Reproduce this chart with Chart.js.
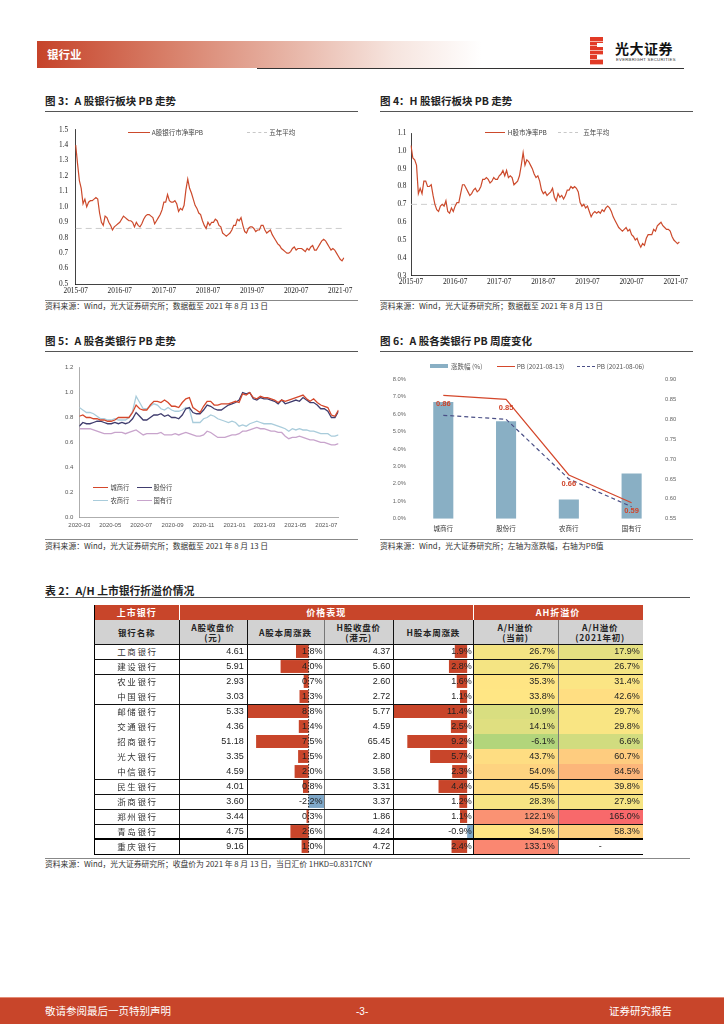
<!DOCTYPE html>
<html><head><meta charset="utf-8">
<script src="https://cdn.jsdelivr.net/npm/chart.js@4.4.1/dist/chart.umd.min.js"></script>
<style>
body{margin:0;width:724px;height:1024px;position:relative;background:#fff;overflow:hidden;font-family:"Noto Sans CJK SC","Noto Sans",sans-serif;}
div,canvas{position:absolute;}
.t{white-space:nowrap;}
</style></head><body>
<script>
// ---------------- DATA ----------------
// Fig 3 / Fig 4 : semi-monthly sampling 2015-07 .. 2021-08
const firstMonth34 = '2015-07', lastMonth34 = '2021-08';
const yearTicks34 = ['2015-07','2016-07','2017-07','2018-07','2019-07','2020-07','2021-07'];
const pbA = [1.40,1.28,1.17,1.12,1.02,1.05,1.00,1.03,1.04,1.04,
 1.05,1.06,1.05,0.96,0.90,0.88,0.94,0.93,0.90,0.88,
 0.85,0.87,0.88,0.89,0.90,0.92,0.94,0.93,0.92,0.91,
 0.91,0.90,0.87,0.90,0.88,0.87,0.89,0.92,0.94,0.95,
 0.95,0.94,0.93,0.89,0.91,0.93,0.95,0.98,1.03,1.03,
 1.08,1.04,1.03,1.03,1.04,1.02,0.97,0.99,0.98,1.01,
 1.11,1.18,1.12,1.09,1.05,1.01,0.99,0.96,0.95,0.91,
 0.88,0.86,0.90,0.88,0.90,0.90,0.92,0.91,0.88,0.87,
 0.83,0.82,0.81,0.82,0.83,0.85,0.88,0.88,0.92,0.91,
 0.93,0.88,0.84,0.83,0.86,0.87,0.87,0.86,0.84,0.85,
 0.85,0.88,0.88,0.85,0.83,0.84,0.85,0.82,0.80,0.78,
 0.76,0.75,0.73,0.72,0.71,0.70,0.70,0.71,0.73,0.74,
 0.72,0.73,0.73,0.73,0.72,0.71,0.73,0.72,0.74,0.75,
 0.72,0.72,0.74,0.76,0.78,0.79,0.78,0.76,0.74,0.72,
 0.73,0.72,0.70,0.68,0.66,0.65,0.67];
const avgA = 0.86;
const pbH = [1.03,0.96,0.95,0.92,0.76,0.79,0.76,0.83,0.83,0.80,
 0.80,0.81,0.75,0.70,0.67,0.66,0.69,0.70,0.69,0.72,
 0.66,0.65,0.68,0.66,0.69,0.71,0.71,0.76,0.81,0.81,
 0.79,0.77,0.75,0.76,0.78,0.79,0.77,0.78,0.80,0.84,
 0.84,0.85,0.84,0.82,0.83,0.85,0.84,0.84,0.86,0.87,
 0.89,0.86,0.89,0.85,0.86,0.85,0.81,0.82,0.83,0.86,
 0.92,0.99,0.92,0.95,0.94,0.92,0.90,0.87,0.85,0.86,
 0.83,0.78,0.76,0.77,0.75,0.76,0.77,0.79,0.74,0.72,
 0.76,0.74,0.75,0.73,0.75,0.78,0.78,0.80,0.79,0.80,
 0.79,0.77,0.71,0.69,0.70,0.68,0.69,0.66,0.63,0.65,
 0.66,0.65,0.66,0.65,0.67,0.66,0.68,0.69,0.68,0.66,
 0.63,0.61,0.59,0.57,0.56,0.55,0.56,0.57,0.55,0.56,
 0.53,0.52,0.50,0.51,0.48,0.46,0.48,0.47,0.51,0.53,
 0.53,0.53,0.56,0.55,0.58,0.59,0.60,0.58,0.57,0.56,
 0.56,0.55,0.52,0.50,0.49,0.48,0.49];
const avgH = 0.70;

// Fig 5 : weekly
const weeks5 = ['2020-03-20','2020-03-27','2020-04-03','2020-04-10','2020-04-17','2020-04-24','2020-05-01','2020-05-08','2020-05-15','2020-05-22','2020-05-29','2020-06-05','2020-06-12','2020-06-19','2020-06-26','2020-07-03','2020-07-10','2020-07-17','2020-07-24','2020-07-31','2020-08-07','2020-08-14','2020-08-21','2020-08-28','2020-09-04','2020-09-11','2020-09-18','2020-09-25','2020-10-02','2020-10-09','2020-10-16','2020-10-23','2020-10-30','2020-11-06','2020-11-13','2020-11-20','2020-11-27','2020-12-04','2020-12-11','2020-12-18','2020-12-25','2021-01-01','2021-01-08','2021-01-15','2021-01-22','2021-01-29','2021-02-05','2021-02-12','2021-02-19','2021-02-26','2021-03-05','2021-03-12','2021-03-19','2021-03-26','2021-04-02','2021-04-09','2021-04-16','2021-04-23','2021-04-30','2021-05-07','2021-05-14','2021-05-21','2021-05-28','2021-06-04','2021-06-11','2021-06-18','2021-06-25','2021-07-02','2021-07-09','2021-07-16','2021-07-23','2021-07-30','2021-08-06','2021-08-13'];
const ticks5 = ['2020-03-20','2020-05-20','2020-07-20','2020-09-20','2020-11-20','2021-01-20','2021-03-20','2021-05-20','2021-07-20'];
const city5 = [0.81,0.82,0.80,0.80,0.79,0.79,0.78,0.78,0.77,0.77,
 0.78,0.80,0.80,0.80,0.80,0.84,0.90,0.87,0.86,0.86,
 0.90,0.93,0.93,0.92,0.94,0.92,0.89,0.89,0.88,0.92,
 0.95,0.96,0.88,0.86,0.84,0.89,0.93,0.93,0.90,0.90,
 0.91,0.91,0.91,0.92,0.93,0.92,0.99,0.98,1.00,0.96,
 0.95,0.97,0.96,0.96,0.95,0.94,0.92,0.94,0.93,0.94,
 0.95,0.96,0.97,0.98,0.95,0.93,0.95,0.92,0.90,0.89,
 0.88,0.82,0.81,0.86];
const joint5 = [0.73,0.76,0.75,0.75,0.76,0.77,0.77,0.76,0.75,0.75,
 0.76,0.75,0.76,0.75,0.76,0.79,0.84,0.81,0.78,0.78,
 0.80,0.82,0.82,0.83,0.81,0.82,0.80,0.80,0.79,0.82,
 0.87,0.88,0.84,0.83,0.83,0.86,0.90,0.89,0.87,0.86,
 0.86,0.88,0.90,0.91,0.92,0.94,1.00,0.99,1.00,0.95,
 0.94,0.96,0.95,0.95,0.94,0.93,0.91,0.94,0.91,0.92,
 0.93,0.94,0.93,0.96,0.94,0.92,0.92,0.90,0.87,0.87,
 0.85,0.80,0.80,0.85];
const rural5 = [0.88,0.86,0.84,0.84,0.83,0.81,0.79,0.79,0.78,0.78,
 0.79,0.78,0.78,0.78,0.80,0.85,0.97,0.92,0.87,0.87,
 0.89,0.91,0.90,0.87,0.86,0.88,0.86,0.85,0.85,0.86,
 0.88,0.87,0.76,0.76,0.76,0.79,0.80,0.82,0.81,0.79,
 0.78,0.77,0.76,0.77,0.76,0.73,0.74,0.73,0.75,0.76,
 0.77,0.76,0.75,0.75,0.75,0.74,0.73,0.72,0.71,0.69,
 0.71,0.70,0.71,0.70,0.70,0.69,0.69,0.68,0.67,0.67,
 0.67,0.65,0.65,0.66];
const state5 = [0.71,0.71,0.71,0.71,0.70,0.69,0.68,0.67,0.67,0.67,
 0.68,0.68,0.68,0.67,0.68,0.69,0.70,0.68,0.66,0.67,
 0.67,0.67,0.67,0.68,0.66,0.66,0.66,0.67,0.66,0.67,
 0.68,0.67,0.66,0.65,0.65,0.66,0.69,0.68,0.66,0.64,
 0.64,0.64,0.65,0.66,0.66,0.67,0.69,0.69,0.70,0.71,
 0.72,0.71,0.71,0.70,0.69,0.69,0.68,0.68,0.65,0.63,
 0.64,0.64,0.65,0.64,0.63,0.62,0.62,0.61,0.60,0.60,
 0.59,0.58,0.58,0.59];

// Fig 6
const cats6 = ['城商行','股份行','农商行','国有行'];
const chg6 = [6.7,5.6,1.1,2.6];
const pb0813 = [0.86,0.85,0.66,0.59];
const pb0806 = [0.81,0.80,0.65,0.58];

// Table 2
const banks = ['工商银行','建设银行','农业银行','中国银行','邮储银行','交通银行','招商银行','光大银行','中信银行','民生银行','浙商银行','郑州银行','青岛银行','重庆银行'];
const aClose = [4.61,5.91,2.93,3.03,5.33,4.36,51.18,3.35,4.59,4.01,3.60,3.44,4.75,9.16];
const aChg = [1.8,4.0,0.7,1.3,8.8,1.4,7.5,1.5,2.0,0.8,-2.2,0.3,2.6,1.0];
const hClose = [4.37,5.60,2.60,2.72,5.77,4.59,65.45,2.80,3.58,3.31,3.37,1.86,4.24,4.72];
const hChg = [1.9,2.8,1.6,1.1,11.4,2.5,9.2,5.7,2.3,4.4,1.2,1.1,-0.9,2.4];
const ahNow = [26.7,26.7,35.3,33.8,10.9,14.1,-6.1,43.7,54.0,45.5,28.3,122.1,34.5,133.1];
const ahStart = [17.9,26.7,31.4,42.6,29.7,29.8,6.6,60.7,84.5,39.8,27.9,165.0,58.3,null];

// ---------------- HELPERS ----------------
Chart.defaults.animation = false;
Chart.defaults.font.family = '"Noto Sans CJK SC","Noto Sans",sans-serif';
function box(l,t,w,h,style,text){
  const e=document.createElement('div');
  Object.assign(e.style,{left:l+'px',top:t+'px'});
  if(w!=null) e.style.width=w+'px';
  if(h!=null) e.style.height=h+'px';
  Object.assign(e.style,style||{});
  if(text!=null){e.textContent=text;e.className='t';}
  document.body.appendChild(e);return e;
}
function canvasAt(l,t,w,h){
  const c=document.createElement('canvas');c.width=w;c.height=h;
  Object.assign(c.style,{left:l+'px',top:t+'px',width:w+'px',height:h+'px'});
  document.body.appendChild(c);return c;
}
function hline(x1,x2,y,color,w){box(x1,y,x2-x1,0,{borderTop:(w||1)+'px solid '+(color||'#000')});}
function vline(x,y1,y2,color,w){box(x,y1,0,y2-y1,{borderLeft:(w||1)+'px solid '+(color||'#000')});}
function text(l,cy,str,size,style){return box(l,cy-size*0.65,null,null,Object.assign({fontSize:size+'px',lineHeight:(size*1.3)+'px',color:'#333'},style||{}),str);}
function legLine(x1,x2,cy,color,w,dashed){box(x1,cy-(w/2),x2-x1,0,{borderTop:w+'px '+(dashed?'dashed ':'solid ')+color});}

// ---------------- PAGE HEADER / FOOTER ----------------
box(37,41,445,27,{background:'linear-gradient(to right,#C6432A 0%,#D8806A 30%,#E8B7A9 58%,#F6E4DE 80%,#ffffff 100%)'});
text(47,54.5,'银行业',11.5,{color:'#fff',fontWeight:'bold'});
hline(257,684,68,'#333',1.3);
box(590,37,13,28,{background:'repeating-linear-gradient(to bottom,#E23A26 0px,#E23A26 3.6px,#F6B3A8 3.6px,#F6B3A8 4.6px)'});
box(597,43,6,4,{background:'#fff'});box(597,55,6,4,{background:'#fff'});
text(615,48.5,'光大证券',14,{color:'#111',fontWeight:'bold',letterSpacing:'0.5px'});
text(616,60,'EVERBRIGHT SECURITIES',4.2,{color:'#333',fontFamily:'"Liberation Sans",sans-serif',letterSpacing:'0.3px'});
box(0,997,724,1,{background:'#E48B75'});
box(0,998,724,26,{background:'#C8452A'});
text(45,1011,'敬请参阅最后一页特别声明',10.5,{color:'#fff'});
text(356,1011,'-3-',10,{color:'#fff',fontFamily:'"Liberation Sans",sans-serif'});
text(609,1011,'证券研究报告',10.5,{color:'#fff'});

// ---------------- SECTION TITLES ----------------
function section(x,titleY,ruleY,srcRuleY,srcY,w,title,src,tsize){
  text(x,titleY,title,tsize||10.5,{fontWeight:'bold',color:'#222'});
  hline(x,x+w,ruleY,'#555',1.3);
  if(srcRuleY!=null){hline(x,x+w,srcRuleY,'#888',1);}
  text(x,srcY,src,7.8,{color:'#333'});
}
const SRC='资料来源：Wind，光大证券研究所；数据截至 2021 年 8 月 13 日';
section(45,100.7,110.5,300.3,306.3,313,'图 3：A 股银行板块 PB 走势',SRC);
section(380,100.7,110.5,300.3,306.3,313,'图 4：H 股银行板块 PB 走势',SRC);
section(45,340.7,350.5,539,546.3,313,'图 5：A 股各类银行 PB 走势',SRC);
section(380,340.7,350.5,539,546.3,313,'图 6：A 股各类银行 PB 周度变化','资料来源：Wind，光大证券研究所；左轴为涨跌幅，右轴为PB值');
section(45,590,596.5,858.3,864.3,645,'表 2：A/H 上市银行折溢价情况','资料来源：Wind，光大证券研究所；收盘价为 2021 年 8 月 13 日，当日汇价 1HKD=0.8317CNY',10.8);

// ---------------- FIG 3 / FIG 4 ----------------
function halfMonthLabels(first,last){
  const out=[];let [y,m]=first.split('-').map(Number);const [ly,lm]=last.split('-').map(Number);
  while(y<ly||(y===ly&&m<=lm)){
    const mm=String(m).padStart(2,'0');
    out.push(y+'-'+mm+'-01');
    if(!(y===ly&&m===lm)) out.push(y+'-'+mm+'-16');
    m++; if(m>12){m=1;y++;}
  }
  return out;
}
const labels34 = halfMonthLabels(firstMonth34,lastMonth34);
const serifTick={family:'"Liberation Serif","Times New Roman",serif',size:7.3};
function pbChart(cv,series,avg,yMin,yMax,yW,xH,pad,lineLabel,yPad,xPad){
  new Chart(cv,{type:'line',
    data:{labels:labels34,datasets:[
      {label:lineLabel,data:series,borderColor:'#CC4A2C',borderWidth:1.2,pointRadius:0,tension:0},
      {label:'五年平均',data:[{x:labels34[0],y:avg},{x:labels34[labels34.length-1],y:avg}],borderColor:'#CDCDCD',borderWidth:1,borderDash:[6,4],pointRadius:0}
    ]},
    options:{responsive:false,layout:{padding:pad},
      plugins:{legend:{display:false},tooltip:{enabled:false}},
      scales:{
        x:{type:'category',offset:false,grid:{display:false,drawTicks:false},border:{display:true,color:'#111',width:0.8},
          afterBuildTicks:s=>{s.ticks=s.ticks.filter(t=>yearTicks34.some(y=>labels34[t.value]===y+'-01'));},
          afterFit:s=>{s.height=xH;},
          ticks:{autoSkip:false,maxRotation:0,padding:xPad,color:'#222',font:serifTick,callback:v=>labels34[v].slice(0,7)}},
        y:{min:yMin,max:yMax,grid:{display:false,drawTicks:false},border:{display:true,color:'#111',width:0.8},
          afterFit:s=>{s.width=yW;},
          ticks:{stepSize:0.1,padding:yPad,color:'#222',font:serifTick,callback:v=>v.toFixed(1)}}
      }}});
}
pbChart(canvasAt(40,115,315,195),pbA,avgA,0.5,1.5,35.7,16,{top:14.7,right:9.7,left:0,bottom:10},'A股银行市净率PB',7.5,2.5);
pbChart(canvasAt(375,118,315,192),pbH,avgH,0.3,1.1,36,24.3,{top:15,right:9.7,left:0,bottom:10},'H股市净率PB',4.5,2);
legLine(128.3,150,132.3,'#CC4A2C',1.2);text(151.7,132.3,'A股银行市净率PB',6.5,{color:'#444'});
legLine(246.7,266.7,132.3,'#C8C8C8',1,true);text(269.3,132.3,'五年平均',6.5,{color:'#444'});
legLine(485,505,132.3,'#CC4A2C',1.2);text(507.7,132.3,'H股市净率PB',6.5,{color:'#444'});
legLine(557.7,578.3,132.3,'#C8C8C8',1,true);text(583.3,132.3,'五年平均',6.5,{color:'#444'});

// ---------------- FIG 5 ----------------
const day0 = Date.parse(weeks5[0]);
const dayNum = d => Math.round((Date.parse(d)-day0)/864e5);
const sansTick={family:'"Liberation Sans",Arial,sans-serif',size:6};
function series5(arr){return weeks5.map((d,i)=>({x:dayNum(d),y:arr[i]}));}
new Chart(canvasAt(40,358,315,185),{type:'line',
  data:{datasets:[
    {label:'城商行',data:series5(city5),borderColor:'#D4472B',borderWidth:1.3,pointRadius:0},
    {label:'股份行',data:series5(joint5),borderColor:'#403D6E',borderWidth:1.3,pointRadius:0},
    {label:'农商行',data:series5(rural5),borderColor:'#A9CCDB',borderWidth:1.3,pointRadius:0},
    {label:'国有行',data:series5(state5),borderColor:'#C8A4CC',borderWidth:1.3,pointRadius:0}
  ]},
  options:{responsive:false,layout:{padding:{top:6.7,right:16.5,left:0,bottom:10}},
    plugins:{legend:{display:false},tooltip:{enabled:false}},
    scales:{
      x:{type:'linear',min:0,max:dayNum(weeks5[weeks5.length-1]),grid:{display:false,drawTicks:false},border:{display:true,color:'#999',width:0.8},
        afterBuildTicks:s=>{s.ticks=ticks5.map(d=>({value:dayNum(d)}));},
        afterFit:s=>{s.height=15.7;},
        ticks:{autoSkip:false,maxRotation:0,padding:4.5,color:'#555',font:sansTick,
          callback:v=>{const d=ticks5.find(t=>dayNum(t)===v);return d?d.slice(0,7):'';}}},
      y:{min:0,max:1.2,grid:{display:false,drawTicks:false},border:{display:true,color:'#999',width:0.8},
        afterFit:s=>{s.width=39.3;},
        ticks:{stepSize:0.2,padding:6,color:'#555',font:sansTick,callback:v=>v.toFixed(1)}}
    }}});
legLine(93.3,108.3,488,'#D4472B',1.8);text(110.5,488,'城商行',6.3,{color:'#444'});
legLine(136.7,151.7,488,'#403D6E',1.8);text(153.5,488,'股份行',6.3,{color:'#444'});
legLine(93.3,108.3,500.7,'#A9CCDB',1.8);text(110.5,500.7,'农商行',6.3,{color:'#444'});
legLine(136.7,151.7,500.7,'#C8A4CC',1.8);text(153.5,500.7,'国有行',6.3,{color:'#444'});

// ---------------- FIG 6 ----------------
const labelPlugin={id:'pbLabels',afterDatasetsDraw(chart){
  const meta=chart.getDatasetMeta(1);const ctx=chart.ctx;ctx.save();
  ctx.font='bold 7.5px "Liberation Sans",Arial,sans-serif';ctx.fillStyle='#D0452A';ctx.textAlign='center';ctx.textBaseline='middle';
  meta.data.forEach((p,i)=>{ctx.fillText(pb0813[i].toFixed(2),p.x,p.y+8.5);});
  ctx.restore();}};
const smallTick={family:'"Liberation Sans",Arial,sans-serif',size:5.8};
new Chart(canvasAt(375,370,315,175),{
  data:{labels:cats6,datasets:[
    {type:'bar',label:'涨跌幅 (%)',data:chg6,yAxisID:'y',backgroundColor:'#89AFC4',barPercentage:0.32,categoryPercentage:1,order:3},
    {type:'line',label:'PB (2021-08-13)',data:pb0813,yAxisID:'y1',borderColor:'#D4472B',borderWidth:1.2,pointRadius:0,order:1},
    {type:'line',label:'PB (2021-08-06)',data:pb0806,yAxisID:'y1',borderColor:'#4A4F86',borderWidth:1.2,borderDash:[4,3],pointRadius:0,order:2}
  ]},
  options:{responsive:false,layout:{padding:{top:8.7,right:0,left:0,bottom:10}},
    plugins:{legend:{display:false},tooltip:{enabled:false}},
    scales:{
      x:{grid:{display:false,drawTicks:false},border:{display:false},afterFit:s=>{s.height=16.3;},
        ticks:{padding:5.5,color:'#333',font:{size:6.5}}},
      y:{position:'left',min:0,max:8,grid:{display:false,drawTicks:false},border:{display:false},afterFit:s=>{s.width=36.9;},
        ticks:{stepSize:1,padding:6,color:'#666',font:smallTick,callback:v=>v.toFixed(1)+'%'}},
      y1:{position:'right',min:0.55,max:0.90,grid:{display:false,drawTicks:false},border:{display:false},afterFit:s=>{s.width=27;},
        ticks:{stepSize:0.05,padding:2,color:'#666',font:smallTick,callback:v=>v.toFixed(2)}}
    }},
  plugins:[labelPlugin]});
box(430,364.3,18.3,4,{background:'#89AFC4'});text(451,366.3,'涨跌幅 (%)',6.5,{color:'#555'});
legLine(496.7,515,366.3,'#D4472B',1.2);text(516.7,366.3,'PB (2021-08-13)',6.5,{color:'#555'});
legLine(576.7,595,366.3,'#4A4F86',1.2,true);text(596.7,366.3,'PB (2021-08-06)',6.5,{color:'#555'});

// ---------------- TABLE 2 ----------------
const colX=[94,179.3,246.7,324,393.3,473.3,557.7,642.7];
const H1=605, H2=620, D0=644, RH=15;
const rowTop=r=>D0+RH*r;
const heatVals=ahNow.concat(ahStart).filter(v=>v!=null).sort((a,b)=>a-b);
const hLo=heatVals[0],hHi=heatVals[heatVals.length-1],hMid=heatVals[Math.floor(heatVals.length/2)];
const cLo=[178,213,123],cMid=[255,230,132],cHi=[248,105,107];
function mix(a,b,t){return 'rgb('+a.map((v,i)=>Math.round(v+(b[i]-v)*t)).join(',')+')';}
function heat(v){return v<=hMid?mix(cLo,cMid,Math.pow((v-hLo)/(hMid-hLo),0.8)):mix(cMid,cHi,(v-hMid)/(hHi-hMid));}
box(colX[0],H1,colX[7]-colX[0],H2-H1,{background:'#C8452A'});
box(colX[0],H2,colX[7]-colX[0],D0-H2,{background:'#D2D2D2'});
function hdr1(c1,c2,s){box(colX[c1],H1,colX[c2]-colX[c1],H2-H1,{color:'#fff',fontWeight:'bold',fontSize:'9px',lineHeight:'15px',textAlign:'center',letterSpacing:'1px'},s);}
hdr1(0,1,'上市银行');hdr1(1,5,'价格表现');hdr1(5,7,'AH折溢价');
vline(colX[1],H1,H2,'#fff',1);vline(colX[5],H1,H2,'#fff',1);
const hdr2=['银行名称','A股收盘价\n(元)','A股本周涨跌','H股收盘价\n(港元)','H股本周涨跌','A/H溢价\n(当前)','A/H溢价\n(2021年初)'];
hdr2.forEach((s,c)=>{const e=box(colX[c],H2,colX[c+1]-colX[c],D0-H2,{color:'#222',fontWeight:'bold',fontSize:'8.5px',lineHeight:'10.5px',textAlign:'center',letterSpacing:'0.8px',whiteSpace:'pre',display:'flex',alignItems:'center',justifyContent:'center'});e.textContent=s;});
banks.forEach((b,r)=>{
  box(colX[5],rowTop(r),colX[6]-colX[5],RH,{background:heat(ahNow[r])});
  if(ahStart[r]!=null) box(colX[6],rowTop(r),colX[7]-colX[6],RH,{background:heat(ahStart[r])});
});
const zeroLine={id:'zeroLine',afterDatasetsDraw(chart){const x=chart.scales.x.getPixelForValue(0);const ctx=chart.ctx;ctx.save();ctx.strokeStyle='#000';ctx.lineWidth=0.8;ctx.setLineDash([1.5,1.5]);ctx.beginPath();ctx.moveTo(x,0);ctx.lineTo(x,chart.height);ctx.stroke();ctx.restore();}};
function dataBars(c,vals,withZero){
  const w=Math.round(colX[c+1]-colX[c]);
  new Chart(canvasAt(colX[c],D0,w,RH*banks.length),{type:'bar',
    data:{labels:banks,datasets:[{data:vals,backgroundColor:vals.map(v=>v<0?'#7FA8C9':'#C8452A'),barPercentage:0.86,categoryPercentage:1}]},
    options:{indexAxis:'y',responsive:false,layout:{padding:0},plugins:{legend:{display:false},tooltip:{enabled:false}},
      scales:{x:{display:false,reverse:true,min:Math.min(...vals),max:Math.max(...vals)},y:{display:false}}},
    plugins:withZero?[zeroLine]:[]});
}
dataBars(2,aChg,true);
dataBars(4,hChg,false);
const numFont={fontFamily:'"Liberation Sans",Arial,sans-serif',fontSize:'9px',lineHeight:RH+'px',color:'#222',textAlign:'right'};
banks.forEach((b,r)=>{
  const t=rowTop(r);
  box(colX[0],t,colX[1]-colX[0],RH,{fontSize:'8.5px',lineHeight:RH+'px',color:'#333',textAlign:'center',letterSpacing:'1.6px',textIndent:'1.6px'},b);
  box(colX[1],t,colX[2]-colX[1]-3,RH,numFont,aClose[r].toFixed(2));
  box(colX[2],t,colX[3]-colX[2]-1.5,RH,numFont,aChg[r].toFixed(1)+'%');
  box(colX[3],t,colX[4]-colX[3]-3,RH,numFont,hClose[r].toFixed(2));
  box(colX[4],t,colX[5]-colX[4]-1.5,RH,numFont,hChg[r].toFixed(1)+'%');
  box(colX[5],t,colX[6]-colX[5]-3,RH,numFont,ahNow[r].toFixed(1)+'%');
  if(ahStart[r]!=null) box(colX[6],t,colX[7]-colX[6]-3,RH,numFont,ahStart[r].toFixed(1)+'%');
  else box(colX[6],t,colX[7]-colX[6],RH,Object.assign({},numFont,{textAlign:'center'}),'-');
});
const tableBottom=rowTop(banks.length);
vline(colX[0],H1,tableBottom,'#000',1);
for(let c=1;c<7;c++) vline(colX[c],H2,tableBottom,c===3||c===6?'#777':'#111',c===3||c===6?1.5:1);
hline(colX[0],colX[7],D0-0.5,'#111',1);
[0,1,3,8,9,10,11].forEach(r=>hline(colX[0],colX[7],rowTop(r+1)-0.5,'#111',1));
hline(colX[0],colX[7],rowTop(13)-1,'#000',2);
hline(colX[0],colX[7],tableBottom-0.5,'#000',1.5);
</script>
</body></html>
